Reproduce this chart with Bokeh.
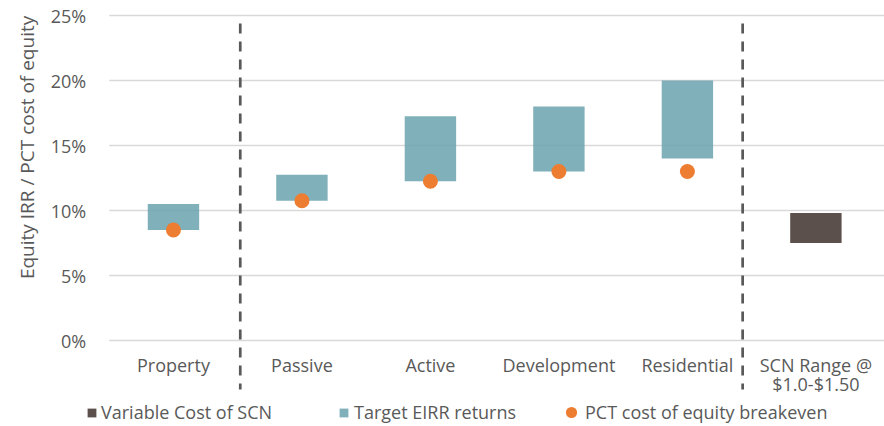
import math
from bokeh.plotting import figure
from bokeh.models import (Range1d, FixedTicker, PrintfTickFormatter,
                          Legend, LegendItem, Label)
from bokeh.core.properties import value
from bokeh.embed import file_html
from bokeh.resources import INLINE

# ---- data ----
categories = ["Property", "Passive", "Active", "Development", "Residential",
              "SCN Range @\n$1.0-$1.50"]
target_low = [8.5, 10.75, 12.25, 13.0, 14.0]
target_high = [10.5, 12.75, 17.25, 18.0, 20.0]
breakeven = [8.5, 10.75, 12.25, 13.0, 13.0]
scn_low = [7.5]
scn_high = [9.8]
y_ticks = [0, 5, 10, 15, 20, 25]
separators = [1.02, 4.93]  # group dividers (category units)

FONT = "Open Sans"
GREY = "#595959"

# category slot positions on a linear scale (one unit per category)
cat_pos = [i + 0.5 for i in range(len(categories))]
target_pos = cat_pos[:5]
scn_pos = cat_pos[5:]

X0, X1 = -0.846, 6.034
Y0, Y1 = -6.615, 26.154

p = figure(x_range=Range1d(X0, X1), y_range=Range1d(Y0, Y1),
           width=884, height=426, output_backend="svg", toolbar_location=None,
           x_axis_location=None, min_border_left=0, min_border_right=0,
           min_border_top=0, min_border_bottom=0)
p.outline_line_color = None
p.background_fill_color = "white"
p.grid.visible = False

# y axis, drawn at the left edge of the category area
yax = p.yaxis[0]
yax.fixed_location = 0
yax.ticker = FixedTicker(ticks=y_ticks)
yax.formatter = PrintfTickFormatter(format="%d%%")
yax.major_label_text_font = FONT
yax.major_label_text_font_size = "18px"
yax.major_label_text_color = GREY
yax.axis_line_color = None
yax.major_tick_line_color = None
yax.minor_tick_line_color = None
yax.major_label_standoff = 17

# horizontal gridlines across the category area
p.segment(x0=[0] * len(y_ticks), x1=[X1] * len(y_ticks), y0=y_ticks, y1=y_ticks,
          line_color="#D9D9D9", line_width=1.5)

# bars & dots
r_target = p.vbar(x=target_pos, bottom=target_low, top=target_high, width=0.4,
                  fill_color="#6aa2ae", fill_alpha=0.85, line_color=None)
r_scn = p.vbar(x=scn_pos, bottom=scn_low, top=scn_high, width=0.4,
               fill_color="#5C504C", line_color=None)
r_dot = p.scatter(x=target_pos, y=breakeven, size=15, fill_color="#ED7D31",
                  line_color=None)

# dashed dividers
p.segment(x0=separators, x1=separators, y0=[24.38] * len(separators),
          y1=[-3.77] * len(separators), line_color=GREY, line_width=2.7,
          line_dash="10 8")

# category labels
lab_x, lab_y, lab_t = [], [], []
for xp, c in zip(cat_pos, categories):
    for i, line in enumerate(c.split("\n")):
        lab_x.append(xp)
        lab_y.append(-1.92 - 1.46 * i)
        lab_t.append(line)
p.text(x=lab_x, y=lab_y, text=lab_t, text_font=value(FONT), text_font_size="18px",
       text_color=GREY, text_align="center", text_baseline="middle")

# y title
p.add_layout(Label(x=-0.636, y=14.85, x_units="data", y_units="data",
                   text="Equity IRR / PCT cost of equity", angle=math.pi / 2,
                   text_align="center", text_baseline="middle", text_font=FONT,
                   text_font_size="19px", text_color=GREY))

# legends
def add_legend(label, renderer, x, y, gw, gh, lh, standoff):
    lg = Legend(items=[LegendItem(label=label, renderers=[renderer])],
                location=(x, y), orientation="horizontal", padding=0, margin=0,
                spacing=0, glyph_width=gw, glyph_height=gh, label_height=lh,
                label_standoff=standoff, label_text_font=FONT,
                label_text_font_size="18px", label_text_color=GREY,
                border_line_color=None, background_fill_alpha=0)
    p.add_layout(lg)

add_legend("Variable Cost of SCN", r_scn, 86, 2, 11, 11, 24, 4)
add_legend("Target EIRR returns", r_target, 338, 2, 11, 11, 24, 5)
add_legend("PCT cost of equity breakeven", r_dot, 557, 0, 28, 28, 28, 0)

open("out.html", "w").write(file_html(p, INLINE))
